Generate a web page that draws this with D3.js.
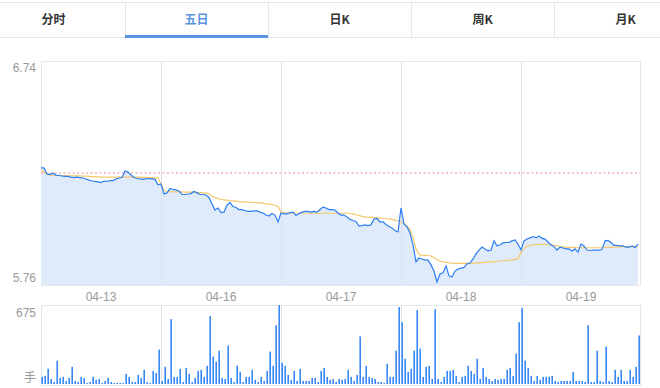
<!DOCTYPE html>
<meta charset="utf-8">
<style>
body { margin: 0; background: #fff; }
text { font-family: "Liberation Sans", Arial, sans-serif; }
.tab { font: bold 12px "Noto Sans CJK SC", "Liberation Sans", sans-serif; fill: #333; }
.tab.on { fill: #5b94e0; }
.lbl { font-size: 12px; fill: #999; }
</style>
<svg width="660" height="388"></svg>
<script src="https://d3js.org/d3.v7.min.js"></script>
<script>

var tabs = ["分时", "五日", "日K", "周K", "月K"];
var activeTab = 1;
var days = ["04-13", "04-16", "04-17", "04-18", "04-19"];
var priceTicks = [6.74, 5.76];
var prevClose = 6.25;
var volMax = 675;

// price, 40 samples per day
var price = [
  6.272,6.272,6.246,6.243,6.249,6.241,6.239,6.237,6.235,6.235,6.232,6.230,6.232,6.230,6.228,6.224,6.219,6.215,6.213,6.211,
  6.208,6.215,6.213,6.217,6.217,6.224,6.228,6.230,6.259,6.254,6.241,6.230,6.226,6.224,6.222,6.224,6.226,6.224,6.222,6.198,
  6.202,6.158,6.163,6.182,6.178,6.176,6.171,6.156,6.156,6.158,6.160,6.169,6.163,6.156,6.156,6.154,6.143,6.114,6.088,6.097,
  6.077,6.079,6.110,6.121,6.103,6.099,6.090,6.090,6.086,6.082,6.082,6.084,6.084,6.079,6.075,6.066,6.062,6.073,6.066,6.036,
  6.075,6.071,6.071,6.077,6.079,6.064,6.073,6.079,6.082,6.082,6.079,6.082,6.079,6.090,6.101,6.097,6.090,6.090,6.088,6.075,
  6.066,6.066,6.058,6.047,6.042,6.038,6.018,6.020,6.023,6.020,6.023,6.049,6.051,6.036,6.036,6.025,6.016,6.009,5.998,5.992,
  6.097,6.027,6.014,5.988,5.935,5.861,5.878,5.874,5.869,5.869,5.848,5.821,5.773,5.808,5.813,5.843,5.800,5.795,5.821,5.830,
  5.834,5.837,5.852,5.856,5.874,5.896,5.913,5.926,5.918,5.909,5.913,5.953,5.931,5.935,5.944,5.946,5.946,5.953,5.957,5.939,
  5.913,5.953,5.961,5.966,5.972,5.966,5.974,5.964,5.961,5.948,5.935,5.929,5.913,5.926,5.922,5.918,5.918,5.909,5.918,5.904,
  5.939,5.931,5.913,5.911,5.913,5.913,5.913,5.915,5.953,5.955,5.946,5.933,5.933,5.931,5.931,5.926,5.926,5.931,5.924,5.939
];

// average price line
var avgPrice = [
  6.263,6.254,6.246,6.241,6.239,6.239,6.239,6.239,6.239,6.238,6.238,6.237,6.237,6.237,6.236,6.236,6.235,6.234,6.234,6.233,
  6.232,6.232,6.232,6.232,6.232,6.232,6.232,6.232,6.232,6.232,6.232,6.232,6.232,6.232,6.231,6.231,6.230,6.230,6.229,6.229,
  6.202,6.173,6.169,6.168,6.168,6.167,6.167,6.167,6.166,6.166,6.166,6.165,6.165,6.164,6.163,6.163,6.158,6.149,6.142,6.138,
  6.135,6.132,6.131,6.129,6.128,6.127,6.125,6.124,6.124,6.123,6.122,6.121,6.120,6.119,6.117,6.115,6.114,6.112,6.109,6.104,
  6.079,6.077,6.075,6.074,6.074,6.074,6.074,6.074,6.074,6.074,6.074,6.074,6.074,6.074,6.074,6.074,6.074,6.074,6.074,6.074,
  6.074,6.074,6.074,6.074,6.071,6.068,6.064,6.060,6.058,6.057,6.056,6.055,6.054,6.053,6.052,6.051,6.049,6.047,6.044,6.041,
  6.036,6.027,6.018,6.005,5.966,5.918,5.894,5.891,5.890,5.889,5.887,5.880,5.872,5.864,5.861,5.859,5.857,5.856,5.855,5.855,
  5.855,5.855,5.855,5.855,5.856,5.856,5.857,5.858,5.859,5.860,5.861,5.862,5.863,5.865,5.866,5.867,5.869,5.870,5.872,5.874,
  5.904,5.918,5.929,5.933,5.935,5.937,5.938,5.938,5.938,5.938,5.936,5.934,5.932,5.929,5.928,5.926,5.925,5.925,5.924,5.923,
  5.923,5.923,5.923,5.923,5.923,5.923,5.923,5.923,5.924,5.925,5.925,5.926,5.927,5.927,5.928,5.928,5.928,5.928,5.928,5.928
];

// volume (手)
var volume = [
  61,69,130,43,17,199,52,61,26,52,147,26,17,61,52,9,17,61,35,43,9,26,52,17,9,9,9,9,87,61,17,17,78,52,121,17,9,112,95,294,
  26,147,43,554,61,61,130,17,138,87,17,52,112,121,61,156,580,234,190,285,52,43,329,52,17,156,104,17,61,61,121,35,17,61,26,112,277,156,502,675,
  182,156,78,35,112,26,130,26,26,26,52,52,17,112,138,61,35,43,17,43,35,43,121,61,26,78,407,61,156,61,52,43,17,17,9,173,61,61,285,657,
  528,216,104,130,285,631,303,61,147,156,43,640,43,17,61,112,112,121,69,17,61,69,156,112,87,216,43,138,61,43,26,43,35,43,43,121,138,69,260,528,
  649,199,138,69,26,69,35,61,61,61,69,26,17,26,26,26,26,104,26,26,26,17,502,17,17,285,26,17,320,26,17,121,61,121,26,26,121,61,147,415
];

var svg = d3.select("svg");
var left = 41, right = 640;
var pTop = 61, pBot = 285, vTop = 305, vBot = 385;
var perDay = 40, nPts = days.length * perDay;

var x = d3.scaleLinear().domain([0, nPts]).range([left, left + nPts * 3]);
var y = d3.scaleLinear().domain([5.76, 6.74]).range([pBot, pTop]);
var yv = d3.scaleLinear().domain([0, volMax]).range([vBot - 1, vTop]);

// tab bar
var tabW = 143, tabX0 = -18;
svg.append("line").attr("x1", 0).attr("x2", 660).attr("y1", 2.5).attr("y2", 2.5).attr("stroke", "#e6e6e6");
svg.append("line").attr("x1", 0).attr("x2", 660).attr("y1", 37.5).attr("y2", 37.5).attr("stroke", "#e6e6e6");
svg.selectAll(".sep").data(d3.range(1, tabs.length)).enter().append("line")
    .attr("x1", function(i) { return tabX0 + i * tabW + 0.5; })
    .attr("x2", function(i) { return tabX0 + i * tabW + 0.5; })
    .attr("y1", 3).attr("y2", 37)
    .attr("stroke", "#e6e6e6");
svg.append("rect")
    .attr("x", tabX0 + activeTab * tabW).attr("y", 35)
    .attr("width", tabW).attr("height", 3)
    .attr("fill", "#5b94e0");
svg.selectAll(".tab").data(tabs).enter().append("text")
    .attr("class", function(d, i) { return i == activeTab ? "tab on" : "tab"; })
    .attr("x", function(d, i) { return tabX0 + i * tabW + tabW / 2; })
    .attr("y", 24)
    .attr("text-anchor", "middle")
    .text(function(d) { return d; });

// price panel frame and grid
svg.append("rect").attr("x", left + 0.5).attr("y", pTop + 0.5)
    .attr("width", right - left).attr("height", pBot - pTop)
    .attr("fill", "none").attr("stroke", "#e3e6ea");

var area = d3.area()
    .x(function(d, i) { return x(i); })
    .y0(pBot)
    .y1(function(d) { return y(d); });

svg.append("path").datum(price)
    .attr("d", area)
    .attr("fill", "#dfebfb");

svg.selectAll(".grid").data(d3.range(1, days.length)).enter().append("line")
    .attr("x1", function(i) { return Math.round(x(i * perDay)) + 0.5; })
    .attr("x2", function(i) { return Math.round(x(i * perDay)) + 0.5; })
    .attr("y1", pTop).attr("y2", pBot)
    .attr("stroke", "#dde2e8");

svg.append("line")
    .attr("x1", left).attr("x2", right)
    .attr("y1", y(prevClose)).attr("y2", y(prevClose))
    .attr("stroke", "#f7b0b0").attr("stroke-width", 1.5)
    .attr("stroke-dasharray", "2,2.5");

var line = d3.line()
    .x(function(d, i) { return x(i); })
    .y(function(d) { return y(d); });

svg.append("path").datum(avgPrice)
    .attr("d", line)
    .attr("fill", "none").attr("stroke", "#f6c86c").attr("stroke-width", 1.2);

svg.append("path").datum(price)
    .attr("d", line)
    .attr("fill", "none").attr("stroke", "#2b7ef3").attr("stroke-width", 1.2);

// price labels
svg.append("text").attr("class", "lbl").attr("x", 36).attr("y", 72)
    .attr("text-anchor", "end").text(priceTicks[0].toFixed(2));
svg.append("text").attr("class", "lbl").attr("x", 36).attr("y", 282)
    .attr("text-anchor", "end").text(priceTicks[1].toFixed(2));

// date labels
svg.selectAll(".day").data(days).enter().append("text")
    .attr("class", "lbl")
    .attr("x", function(d, i) { return x(i * perDay + perDay / 2); })
    .attr("y", 301)
    .attr("text-anchor", "middle")
    .text(function(d) { return d; });

// volume panel
svg.append("rect").attr("x", left + 0.5).attr("y", vTop + 0.5)
    .attr("width", right - left).attr("height", vBot - vTop)
    .attr("fill", "none").attr("stroke", "#e3e6ea");
svg.selectAll(".vgrid").data(d3.range(1, days.length)).enter().append("line")
    .attr("x1", function(i) { return Math.round(x(i * perDay)) + 0.5; })
    .attr("x2", function(i) { return Math.round(x(i * perDay)) + 0.5; })
    .attr("y1", vTop).attr("y2", vBot)
    .attr("stroke", "#dde2e8");

svg.selectAll(".vol").data(volume).enter().append("rect")
    .attr("x", function(d, i) { return x(i) + 0.4; })
    .attr("y", function(d) { return yv(d); })
    .attr("width", 1.6)
    .attr("height", function(d) { return yv(0) - yv(d); })
    .attr("fill", "#3a88f6");

svg.append("text").attr("class", "lbl").attr("x", 36).attr("y", 317)
    .attr("text-anchor", "end").text(volMax);
svg.append("text").attr("class", "lbl").attr("x", 36).attr("y", 382)
    .attr("text-anchor", "end")
    .style("font-family", "'Noto Sans CJK SC', sans-serif")
    .text("手");

</script>
